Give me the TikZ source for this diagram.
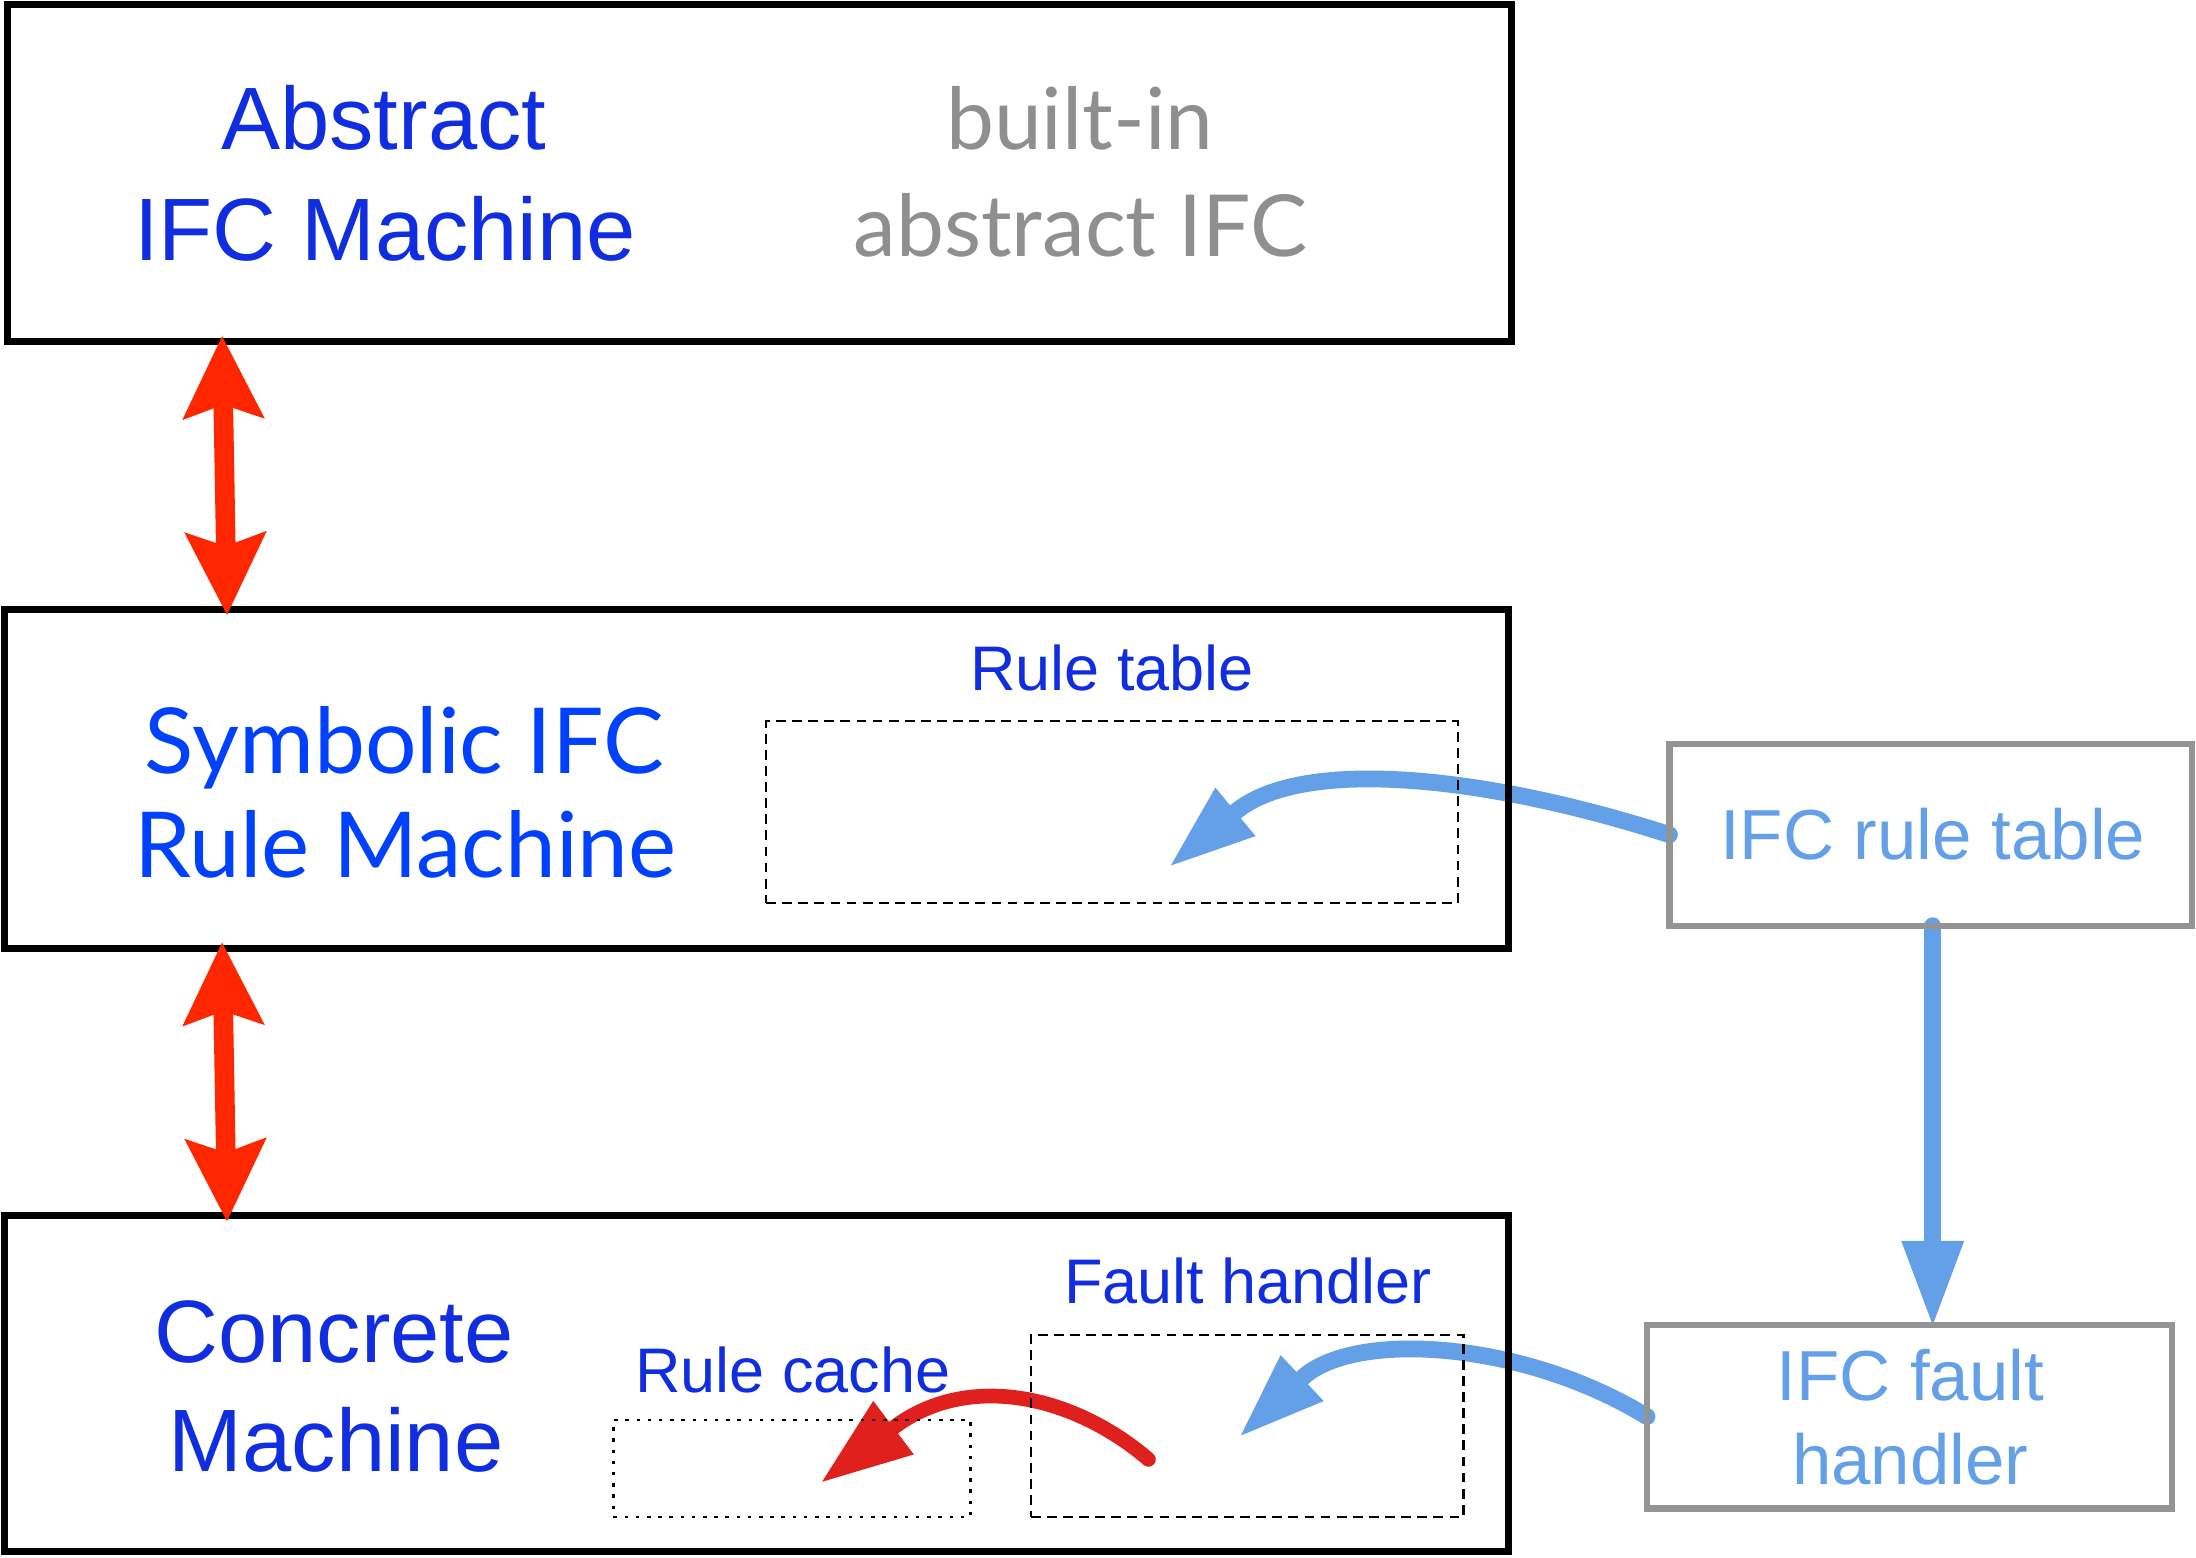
\documentclass[tikz,border=0pt]{standalone}
\usepackage{fontspec}
\setmainfont{Liberation Sans}
\newfontfamily\gillfont{Lato}
\usetikzlibrary{arrows.meta,backgrounds}
\definecolor{labelblue}{RGB}{16,45,224}
\definecolor{gillblue}{RGB}{0,64,255}
\definecolor{textgray}{RGB}{143,143,143}
\definecolor{boxgray}{RGB}{148,148,148}
\definecolor{lightblue}{RGB}{100,160,232}
\definecolor{arrowred}{RGB}{255,38,0}
\definecolor{cachered}{RGB}{224,32,28}
\begin{document}
\begin{tikzpicture}[x=0.02cm,y=-0.02cm,
  machine/.style={draw=black, line width=0.1cm, outer sep=0pt, inner sep=0pt, minimum width=21.48cm},
  part/.style={draw=black, line width=0.03cm, outer sep=0pt, inner sep=0pt, dash pattern=on 0.14cm off 0.09cm},
  soft/.style={draw=boxgray, line width=0.09cm, outer sep=0pt, inner sep=0pt},
  txt/.style={anchor=base, inner sep=0pt},
  big/.style={txt, labelblue, font=\fontsize{36}{40}\selectfont},
  gill/.style={txt, font=\gillfont\fontsize{37}{40}\selectfont},
  small/.style={txt, labelblue, font=\fontsize{25.6}{30}\selectfont},
  soft text/.style={txt, lightblue, font=\fontsize{28.8}{32}\selectfont},
  dbl/.style={arrowred, line width=0.28cm,
    {Stealth[length=1.19cm,width=1.18cm,inset=0.21cm,line width=0pt]}-{Stealth[length=1.19cm,width=1.18cm,inset=0.21cm,line width=0pt]}},
  feed/.style={lightblue, line width=0.24cm, line cap=round, -{Triangle[length=1.2cm,width=0.9cm,line width=0pt]}},
]
\useasboundingbox (0,0) rectangle (1568,1112);

\node[machine, minimum height=4.82cm] (abs) at (542,123.5) {};
\node[machine, minimum height=4.84cm] (sym) at (540,556) {};
\node[machine, minimum height=4.80cm] (con) at (540,988) {};

\node[part, minimum width=9.88cm, minimum height=2.60cm] (rtab) at (794,580) {};
\node[part, minimum width=6.18cm, minimum height=2.60cm] (fault) at (890.5,1018) {};
\node[part, dash pattern=on 0.05cm off 0.11cm, minimum width=5.10cm, minimum height=1.38cm] (cache) at (565.5,1048.5) {};

\node[soft, minimum width=7.46cm, minimum height=2.60cm] (ifcrt) at (1378.5,596) {};
\node[soft, minimum width=7.50cm, minimum height=2.62cm] (ifcfh) at (1363.5,1011.5) {};

\node[big] (abs1) at (274,107) {Abstract};
\node[big] (abs2) at (275,185.7) {IFC Machine};
\node[gill, textgray, font=\gillfont\fontsize{34.8}{40}\selectfont] (bi1) at (771,106.6) {built-in};
\node[gill, textgray, font=\gillfont\fontsize{34.8}{40}\selectfont] (bi2) at (771.5,183.3) {abstract IFC};
\node[gill, gillblue] (sym1) at (288.7,552.4) {Symbolic IFC};
\node[gill, gillblue] (sym2) at (289.5,626.6) {Rule Machine};
\node[big] (con1) at (238.6,972.6) {Concrete};
\node[big] (con2) at (240,1051) {Machine};

\node[small] (rtab1) at (794,493) {Rule table};
\node[small] (fault1) at (891,931) {Fault handler};
\node[small] (cache1) at (566,994) {Rule cache};
\node[soft text] (ifcrt1) at (1380,614) {IFC rule table};
\node[soft text] (ifcfh1) at (1364,1000) {IFC fault};
\node[soft text] (ifcfh2) at (1364,1060) {handler};

\begin{scope}[on background layer]
\draw[feed] (ifcrt.west) .. controls +(-130,-42) and +(94,-78) .. ([shift={(0.84cm,-0.76cm)}]rtab.center);
\draw[feed] ([xshift=0.03cm]ifcrt.south) -- ([xshift=0.03cm]ifcrt.south |- ifcfh.north);
\draw[feed] (ifcfh.west) .. controls +(-90,-55) and +(80,-75) .. ([shift={(-0.09cm,-0.14cm)}]fault.center);
\draw[cachered, line width=0.21cm, line cap=round, -{Triangle[length=1.28cm,width=0.96cm,line width=0pt]}]
  ([shift={(-1.41cm,-0.48cm)}]fault.center) .. controls +(-55,-47) and +(103,-78) .. ([shift={(0.43cm,-0.19cm)}]cache.center);
\end{scope}

\draw[dbl] ([xshift=3.07cm,yshift=0.08cm]abs.south west) -- ([xshift=3.18cm,yshift=-0.08cm]sym.north west);
\draw[dbl] ([xshift=3.11cm,yshift=0.08cm]sym.south west) -- ([xshift=3.18cm,yshift=-0.08cm]con.north west);

\end{tikzpicture}
\end{document}
